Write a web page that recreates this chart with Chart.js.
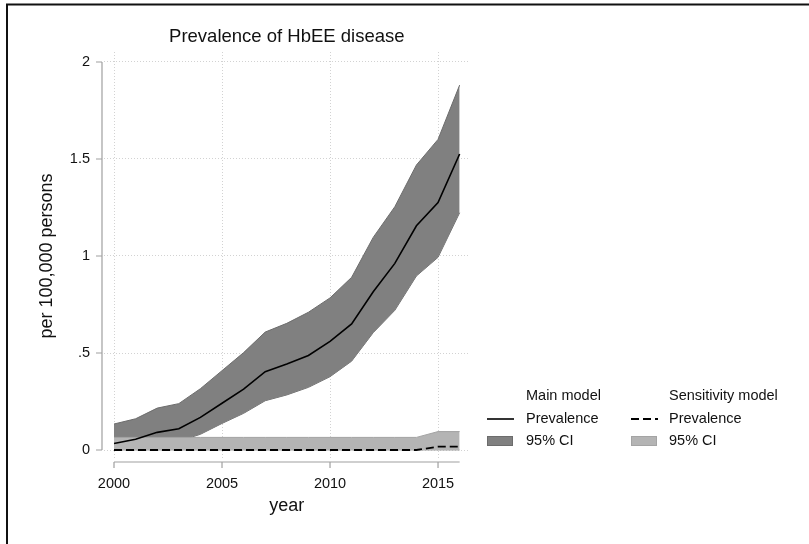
<!DOCTYPE html>
<html>
<head>
<meta charset="utf-8">
<title>Prevalence of HbEE disease</title>
<script src="https://cdn.jsdelivr.net/npm/chart.js@4.4.1/dist/chart.umd.min.js"></script>
<style>
  html, body { margin: 0; padding: 0; background: #ffffff; }
  #wrap { width: 809px; height: 544px; position: relative; }
  canvas { display: block; }
</style>
</head>
<body>
<div id="wrap"><canvas id="chart" width="809" height="544"></canvas></div>
<script>
// Years of observation
const years = [2000, 2001, 2002, 2003, 2004, 2005, 2006, 2007, 2008, 2009, 2010, 2011, 2012, 2013, 2014, 2015, 2016];

// Main model: prevalence per 100,000 persons with 95% CI
const mainPrevalence = [0.034, 0.055, 0.091, 0.110, 0.168, 0.241, 0.314, 0.404, 0.443, 0.487, 0.560, 0.650, 0.816, 0.962, 1.156, 1.275, 1.526];
const mainUpper = [0.134, 0.161, 0.216, 0.239, 0.316, 0.409, 0.502, 0.608, 0.653, 0.710, 0.784, 0.890, 1.096, 1.254, 1.469, 1.601, 1.881];
const mainLower = [0.005, 0.012, 0.025, 0.045, 0.081, 0.137, 0.189, 0.254, 0.284, 0.323, 0.378, 0.458, 0.605, 0.720, 0.897, 0.993, 1.223];

// Sensitivity model: prevalence per 100,000 persons with 95% CI
const sensPrevalence = [0, 0, 0, 0, 0, 0, 0, 0, 0, 0, 0, 0, 0, 0, 0, 0.017, 0.017];
const sensUpper = [0.065, 0.065, 0.065, 0.065, 0.065, 0.065, 0.065, 0.065, 0.065, 0.065, 0.065, 0.065, 0.065, 0.065, 0.065, 0.095, 0.095];
const sensLower = [0, 0, 0, 0, 0, 0, 0, 0, 0, 0, 0, 0, 0, 0, 0, 0, 0];

// Axis ticks
const xTickValues = [2000, 2005, 2010, 2015];
const yTickValues = [0, 0.5, 1, 1.5, 2];
const yTickLabels = ['0', '.5', '1', '1.5', '2'];

// Text
const chartTitle = 'Prevalence of HbEE disease';
const xTitle = 'year';
const yTitle = 'per 100,000 persons';
const legendHeaders = ['Main model', 'Sensitivity model'];
const legendLabels = ['Prevalence', '95% CI'];

const FONT = '"Liberation Sans", Arial, Helvetica, sans-serif';
const DARK_FILL = '#808080';
const DARK_EDGE = '#6c6c6c';
const LIGHT_FILL = '#b4b4b4';
const LIGHT_EDGE = '#a4a4a4';
const AXIS_GREY = '#a0a0a0';
const DASH = [8, 4];

const pts = arr => years.map((y, i) => ({ x: y, y: arr[i] }));

// Stata-style axes, titles, legend and outer frame
const decorations = {
  id: 'decorations',
  afterDraw(chart) {
    const ctx = chart.ctx;
    const xs = chart.scales.x, ys = chart.scales.y;
    const x0 = xs.getPixelForValue(years[0]);
    const x1 = xs.getPixelForValue(years[years.length - 1]);
    const y0 = ys.getPixelForValue(yTickValues[0]);
    const y1 = ys.getPixelForValue(yTickValues[yTickValues.length - 1]);
    const area = chart.chartArea;

    ctx.save();
    // y axis line and ticks
    ctx.strokeStyle = AXIS_GREY;
    ctx.lineWidth = 1.2;
    const axX = area.left - 2;
    ctx.beginPath();
    ctx.moveTo(axX, y0);
    ctx.lineTo(axX, y1);
    yTickValues.forEach(v => {
      const p = ys.getPixelForValue(v);
      ctx.moveTo(axX - 6, p);
      ctx.lineTo(axX, p);
    });
    // x axis line and ticks
    const axY = area.bottom + 2;
    ctx.moveTo(x0, axY);
    ctx.lineTo(x1, axY);
    xTickValues.forEach(v => {
      const p = xs.getPixelForValue(v);
      ctx.moveTo(p, axY);
      ctx.lineTo(p, axY + 6);
    });
    ctx.stroke();

    // titles
    ctx.fillStyle = '#111111';
    ctx.textAlign = 'center';
    ctx.textBaseline = 'middle';
    ctx.font = '18.5px ' + FONT;
    ctx.fillText(chartTitle, (x0 + x1) / 2, 37);
    ctx.font = '18px ' + FONT;
    ctx.fillText(xTitle, (x0 + x1) / 2, 506);
    ctx.save();
    ctx.translate(47, (y0 + y1) / 2);
    ctx.rotate(-Math.PI / 2);
    ctx.fillText(yTitle, 0, 0);
    ctx.restore();

    // legend
    const cols = [
      { key: 487, text: 526, fill: DARK_FILL, edge: DARK_EDGE, dash: [] },
      { key: 631, text: 669, fill: LIGHT_FILL, edge: LIGHT_EDGE, dash: DASH }
    ];
    ctx.font = '14.5px ' + FONT;
    ctx.textAlign = 'left';
    cols.forEach((c, i) => {
      ctx.fillStyle = '#111111';
      ctx.fillText(legendHeaders[i], c.text, 396);
      ctx.fillText(legendLabels[0], c.text, 419);
      ctx.fillText(legendLabels[1], c.text, 441);
      ctx.save();
      ctx.strokeStyle = '#000000';
      ctx.lineWidth = i === 0 ? 1.6 : 1.8;
      ctx.setLineDash(c.dash);
      ctx.beginPath();
      ctx.moveTo(c.key, 419);
      ctx.lineTo(c.key + 27, 419);
      ctx.stroke();
      ctx.restore();
      ctx.fillStyle = c.fill;
      ctx.fillRect(c.key, 436, 26, 10);
      ctx.strokeStyle = c.edge;
      ctx.lineWidth = 1;
      ctx.strokeRect(c.key + 0.5, 436.5, 25, 9);
    });

    // outer frame
    ctx.strokeStyle = '#111111';
    ctx.lineWidth = 2;
    ctx.beginPath();
    ctx.moveTo(7, 560);
    ctx.lineTo(7, 4.5);
    ctx.lineTo(830, 4.5);
    ctx.stroke();
    ctx.restore();
  }
};

new Chart(document.getElementById('chart'), {
  type: 'line',
  data: {
    datasets: [
      { label: 'Main CI lower', data: pts(mainLower), borderColor: DARK_EDGE, borderWidth: 1, fill: false, order: 6 },
      { label: 'Main CI upper', data: pts(mainUpper), borderColor: DARK_EDGE, borderWidth: 1, backgroundColor: DARK_FILL, fill: 0, order: 5 },
      { label: 'Sensitivity CI lower', data: pts(sensLower), borderColor: LIGHT_EDGE, borderWidth: 1, fill: false, order: 4 },
      { label: 'Sensitivity CI upper', data: pts(sensUpper), borderColor: LIGHT_EDGE, borderWidth: 1, backgroundColor: LIGHT_FILL, fill: 2, order: 3 },
      { label: 'Main prevalence', data: pts(mainPrevalence), borderColor: '#000000', borderWidth: 1.6, fill: false, order: 2 },
      { label: 'Sensitivity prevalence', data: pts(sensPrevalence), borderColor: '#000000', borderWidth: 1.8, borderDash: DASH, fill: false, order: 1 }
    ]
  },
  options: {
    responsive: false,
    animation: false,
    devicePixelRatio: 1,
    layout: { padding: { left: 0, top: 52, right: 339, bottom: 0 } },
    elements: { point: { radius: 0, hoverRadius: 0 }, line: { tension: 0 } },
    plugins: {
      legend: { display: false },
      tooltip: { enabled: false },
      filler: { drawTime: 'beforeDatasetDraw', propagate: false }
    },
    scales: {
      x: {
        type: 'linear',
        min: 1999.537,
        max: 2016.48,
        afterBuildTicks: s => { s.ticks = xTickValues.map(v => ({ value: v })); },
        afterFit: s => { s.height = 84; },
        grid: { color: '#d2d2d2', lineWidth: 1, drawTicks: false },
        border: { display: false, dash: [1, 2] },
        ticks: { font: { family: FONT, size: 14.5 }, color: '#111111', padding: 15, maxRotation: 0, callback: v => String(v) }
      },
      y: {
        type: 'linear',
        min: -0.0515,
        max: 2.0515,
        afterBuildTicks: s => { s.ticks = yTickValues.map(v => ({ value: v })); },
        afterFit: s => { s.width = 104; },
        grid: { color: '#d2d2d2', lineWidth: 1, drawTicks: false },
        border: { display: false, dash: [1, 2] },
        ticks: {
          font: { family: FONT, size: 14.5 },
          color: '#111111',
          padding: 14,
          callback: v => { const i = yTickValues.indexOf(v); return i >= 0 ? yTickLabels[i] : ''; }
        }
      }
    }
  },
  plugins: [decorations]
});
</script>
</body>
</html>
